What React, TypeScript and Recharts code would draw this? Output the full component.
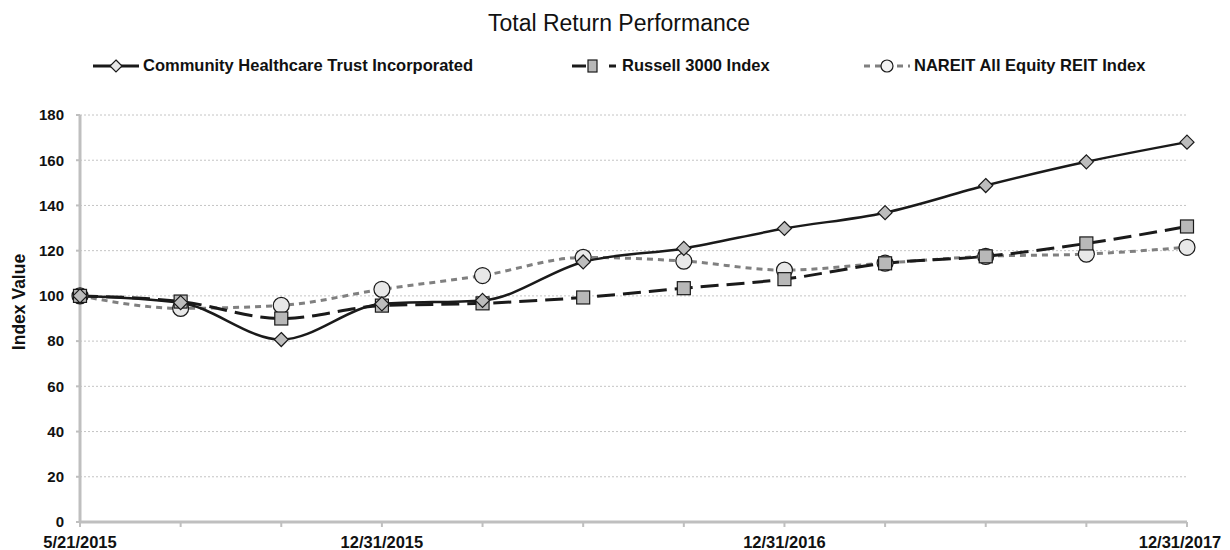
import React from "react";
import { CartesianGrid, Label, Line, LineChart, XAxis, YAxis } from "recharts";

const periods = ["5/21/2015", "6/30/2015", "9/30/2015", "12/31/2015", "3/31/2016", "6/30/2016", "9/30/2016", "12/31/2016", "3/31/2017", "6/30/2017", "9/30/2017", "12/31/2017"];
const shownTicks = ["5/21/2015", "12/31/2015", "12/31/2016", "12/31/2017"];
const chct = [100, 97, 80.7, 96.5, 98, 115, 121, 129.8, 136.8, 148.8, 159.3, 168];
const russell = [100, 97.5, 90, 95.7, 96.7, 99.3, 103.4, 107.4, 114.4, 117.5, 123.2, 130.7];
const nareit = [100, 94.5, 95.8, 102.9, 109, 117, 115.4, 111.4, 114.5, 117.5, 118.5, 121.5];
const yTicks = [0, 20, 40, 60, 80, 100, 120, 140, 160, 180];

const data = periods.map((p, i) => ({ period: p, chct: chct[i], russell: russell[i], nareit: nareit[i] }));

const FONT = "'Liberation Sans', Arial, sans-serif";

function Diamond(props: any) {
  const { cx, cy } = props;
  if (cx == null || cy == null) return null;
  return <path d={`M${cx},${cy - 7}L${cx + 7},${cy}L${cx},${cy + 7}L${cx - 7},${cy}Z`} fill="#bdbdbd" stroke="#1a1a1a" strokeWidth={1.2} />;
}

function Square(props: any) {
  const { cx, cy } = props;
  if (cx == null || cy == null) return null;
  return <rect x={cx - 6.5} y={cy - 6.5} width={13} height={13} fill="#b8b8b8" stroke="#1a1a1a" strokeWidth={1.2} />;
}

function Circle(props: any) {
  const { cx, cy } = props;
  if (cx == null || cy == null) return null;
  return <circle cx={cx} cy={cy} r={8} fill="#e8e8e8" stroke="#1a1a1a" strokeWidth={1.2} />;
}

function XTick(props: any) {
  const { x, y, payload, index } = props;
  const v = payload.value as string;
  if (!shownTicks.includes(v)) return null;
  const dx = index === periods.length - 1 ? -7 : 0;
  return (
    <text x={x + dx} y={y + 19} textAnchor="middle" fontFamily={FONT} fontWeight="bold" fontSize={16.5} fill="#111">
      {v}
    </text>
  );
}

function YLabel() {
  return (
    <text x={25} y={302} transform="rotate(-90 25 302)" textAnchor="middle" fontFamily={FONT} fontWeight="bold" fontSize={17.5} fill="#111">
      Index Value
    </text>
  );
}

function LegendItem({ label, kind }: { label: string; kind: "chct" | "russell" | "nareit" }) {
  return (
    <div style={{ display: "flex", alignItems: "center" }}>
      <svg width={46} height={16} style={{ marginRight: 4 }}>
        {kind === "chct" && (
          <>
            <line x1={0} y1={8} x2={46} y2={8} stroke="#1a1a1a" strokeWidth={3} />
            <path d="M23,2L29,8L23,14L17,8Z" fill="#e8e8e8" stroke="#1a1a1a" strokeWidth={1.2} />
          </>
        )}
        {kind === "russell" && (
          <>
            <line x1={0} y1={8} x2={14} y2={8} stroke="#1a1a1a" strokeWidth={3} />
            <line x1={37} y1={8} x2={44} y2={8} stroke="#1a1a1a" strokeWidth={3} />
            <rect x={16} y={2} width={9} height={12} fill="#b8b8b8" stroke="#1a1a1a" strokeWidth={1.2} />
          </>
        )}
        {kind === "nareit" && (
          <>
            <line x1={0} y1={8} x2={46} y2={8} stroke="#808080" strokeWidth={3} strokeDasharray="6 5" />
            <circle cx={23} cy={8} r={6} fill="#f2f2f2" stroke="#1a1a1a" strokeWidth={1.2} />
          </>
        )}
      </svg>
      <span style={{ fontFamily: FONT, fontWeight: "bold", fontSize: 16.5, color: "#111" }}>{label}</span>
    </div>
  );
}

export default function App() {
  return (
    <div style={{ position: "absolute", left: 0, top: 0, width: 1230, height: 550, background: "#fff" }}>
      <div style={{ position: "absolute", top: 10, left: 4, width: 1230, textAlign: "center", fontFamily: FONT, fontSize: 23, color: "#111" }}>
        Total Return Performance
      </div>
      <div style={{ position: "absolute", top: 56, left: 93 }}>
        <LegendItem label="Community Healthcare Trust Incorporated" kind="chct" />
      </div>
      <div style={{ position: "absolute", top: 56, left: 572 }}>
        <LegendItem label="Russell 3000 Index" kind="russell" />
      </div>
      <div style={{ position: "absolute", top: 56, left: 864 }}>
        <LegendItem label="NAREIT All Equity REIT Index" kind="nareit" />
      </div>
      <LineChart width={1230} height={550} data={data} margin={{ top: 115, right: 43, bottom: 0, left: 30 }}>
        <CartesianGrid vertical={false} stroke="#c4c4c4" strokeDasharray="2 2" />
        <XAxis
          dataKey="period"
          height={28}
          interval={0}
          tick={<XTick />}
          axisLine={{ stroke: "#bfbfbf", strokeWidth: 3 }}
          tickLine={{ stroke: "#bfbfbf", strokeWidth: 2 }}
          tickSize={5}
        />
        <YAxis
          width={50}
          domain={[0, 180]}
          ticks={yTicks}
          interval={0}
          tick={{ fontFamily: FONT, fontWeight: "bold", fontSize: 15, fill: "#111" }}
          axisLine={{ stroke: "#bfbfbf", strokeWidth: 3 }}
          tickLine={{ stroke: "#bfbfbf", strokeWidth: 2 }}
          tickSize={4}
          tickMargin={12}
        >
          <Label content={<YLabel />} />
        </YAxis>
        <Line type="monotone" dataKey="nareit" stroke="#808080" strokeWidth={3} strokeDasharray="6 5" dot={<Circle />} isAnimationActive={false} />
        <Line type="monotone" dataKey="russell" stroke="#1a1a1a" strokeWidth={3} strokeDasharray="18 8" dot={<Square />} isAnimationActive={false} />
        <Line type="monotone" dataKey="chct" stroke="#1a1a1a" strokeWidth={2.5} dot={<Diamond />} isAnimationActive={false} />
      </LineChart>
    </div>
  );
}
